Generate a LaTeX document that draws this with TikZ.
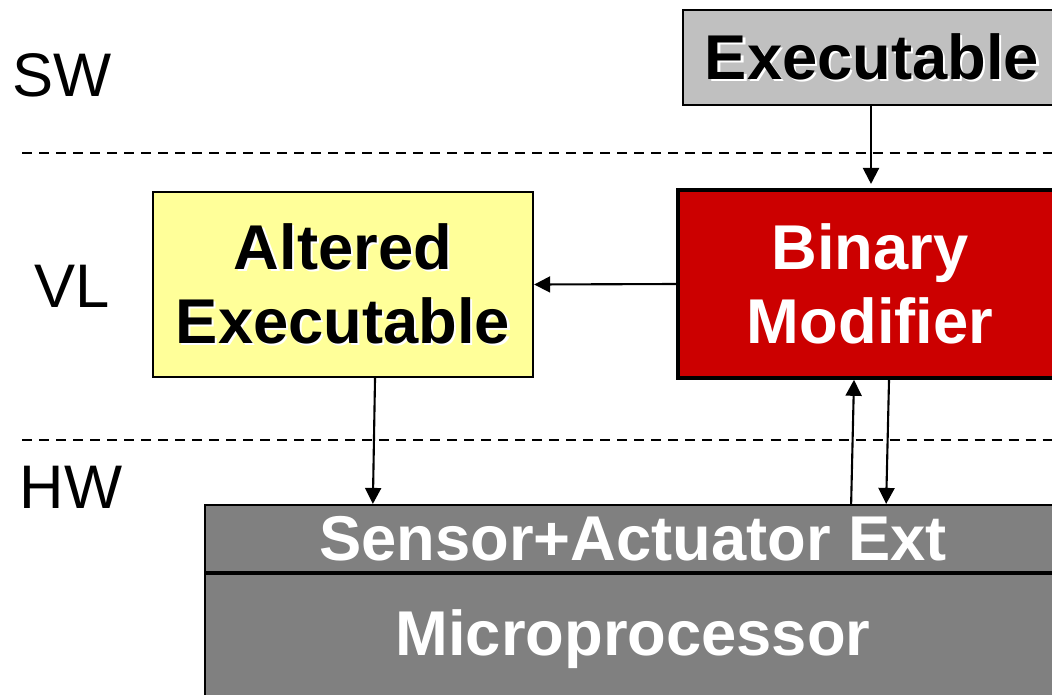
\documentclass[tikz,border=0pt]{standalone}
\usepackage{fontspec}
\setmainfont{Liberation Sans}
\usetikzlibrary{arrows.meta}

\definecolor{exegray}{HTML}{C0C0C0}
\definecolor{modred}{HTML}{CC0000}
\definecolor{altyellow}{HTML}{FFFF99}
\definecolor{hwgray}{HTML}{808080}

% black text with a small white drop shadow
\newcommand{\shadowed}[1]{\makebox[0pt][l]{\hspace{0.6pt}\raisebox{-0.6pt}{\textcolor{white}{#1}}}#1}

\tikzset{
    layer/.style={font=\fontsize{17.5}{21}\selectfont},
    block/.style={draw=black, line width=0.6pt, inner sep=0pt, align=center,
        font=\fontsize{18}{21}\selectfont\bfseries},
    link/.style={line width=0.6pt, ->},
    >={Triangle[length=1.6mm, width=1.6mm]}
}

\begin{document}
\begin{tikzpicture}[x=0.01cm, y=-0.01cm]
        \useasboundingbox (0,0) rectangle (1052,694);
        \clip (0,0) rectangle (1052,694);

        % draw the layer names
        \node[layer] (sw) at (62,75) {SW};
        \node[layer] (vl) at (72,286) {VL};
        \node[layer] (hw) at (71,487) {HW};

        % draw the dashed layer borders
        \draw[line width=0.6pt, dash pattern=on 0.1cm off 0.07cm] (22,153) -- (1052,153);
        \draw[line width=0.6pt, dash pattern=on 0.1cm off 0.07cm] (22,440) -- (1052,440);

        % draw the software and virtual layer blocks
        \node[block, fill=exegray, minimum width=3.78cm, minimum height=0.95cm]
            (exe) at (872,57.5) {\shadowed{Executable}};
        \node[block, fill=modred, text=white, line width=1pt, minimum width=3.84cm, minimum height=1.88cm]
            (binmod) at (870,284) {Binary\\Modifier};
        \node[block, fill=altyellow, minimum width=3.8cm, minimum height=1.85cm]
            (altered) at (343,284.5) {\shadowed{Altered}\\\shadowed{Executable}};

        % draw the hardware blocks
        \node[block, fill=hwgray, text=white, minimum width=8.56cm, minimum height=0.67cm]
            (sensor) at (633,538.5) {Sensor+Actuator Ext};
        \node[block, fill=hwgray, text=white, minimum width=8.56cm, minimum height=1.3cm, anchor=north]
            (micro) at (sensor.south) {Microprocessor};

        % draw the arrows
        \draw[link, shorten >=1.2pt] ([xshift=-0.01cm]exe.south) -- ([xshift=-0.01cm]exe.south |- binmod.north);
        \draw[link] (binmod.west) -- (altered.east);
        \draw[link] ([xshift=0.32cm]altered.south) -- ([xshift=-2.6cm]sensor.north);
        \draw[link] ([xshift=2.18cm]sensor.north) -- ([xshift=-0.16cm]binmod.south);
        \draw[link] ([xshift=0.19cm]binmod.south) -- ([xshift=2.53cm]sensor.north);
\end{tikzpicture}
\end{document}
